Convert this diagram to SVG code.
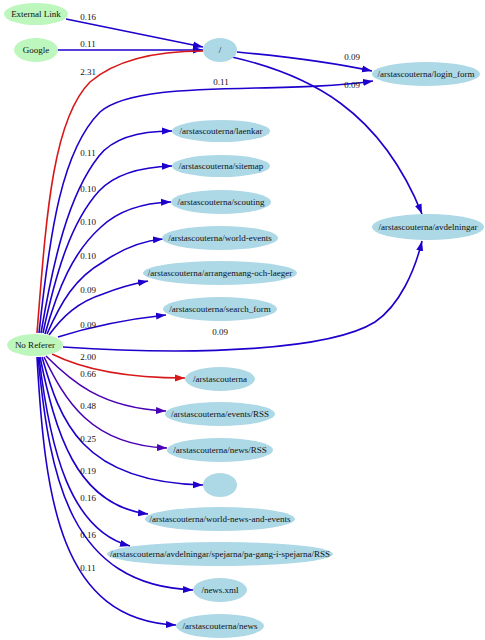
<svg xmlns="http://www.w3.org/2000/svg" width="485" height="640" viewBox="0 0 485 640">
<style>
text{font-family:"Liberation Serif","Times New Roman",serif;font-size:9px;fill:#111;text-anchor:middle}
.g{fill:#bdf7bd}
.b{fill:#add8e6}
.e{fill:none;stroke-width:1.6}
.eb{stroke:#1e00cc}
.ep{stroke:#4a00b4}
.er{stroke:#d81818}
</style>
<defs>
<marker id="ab" markerWidth="11" markerHeight="8" refX="10" refY="4" orient="auto" markerUnits="userSpaceOnUse"><path d="M0,0.5 L10,4 L0,7.5 z" fill="#1e00cc"/></marker>
<marker id="ap" markerWidth="11" markerHeight="8" refX="10" refY="4" orient="auto" markerUnits="userSpaceOnUse"><path d="M0,0.5 L10,4 L0,7.5 z" fill="#4a00b4"/></marker>
<marker id="ar" markerWidth="11" markerHeight="8" refX="10" refY="4" orient="auto" markerUnits="userSpaceOnUse"><path d="M0,0.5 L10,4 L0,7.5 z" fill="#d81818"/></marker>
</defs>
<rect width="485" height="640" fill="#fff"/>
<g id="edges">
<path class="e eb" marker-end="url(#ab)" d="M66,19 L203,47"/>
<path class="e eb" marker-end="url(#ab)" d="M57,50 L203,50"/>
<path class="e er" d="M37,333 C46,220 52,120 90,82 C118,58 160,51 203,51"/>
<path class="e eb" marker-end="url(#ab)" d="M39,333 C50,230 62,150 100,112 C140,78 280,95 373,81"/>
<path class="e eb" marker-end="url(#ab)" d="M237,52 C280,56 330,62 372,71"/>
<path class="e eb" marker-end="url(#ab)" d="M232,57 C310,75 380,110 422,214"/>
<path class="e eb" marker-end="url(#ab)" d="M41,333 C53,262 68,195 99,156 C113,138 140,131 172,131"/>
<path class="e eb" marker-end="url(#ab)" d="M43,333 C56,272 71,222 99,191 C115,174 140,167 172,166"/>
<path class="e eb" marker-end="url(#ab)" d="M45,334 C58,288 73,252 101,227 C118,211 140,203 171,202"/>
<path class="e eb" marker-end="url(#ab)" d="M47,334 C61,302 75,278 103,262 C122,249 140,241 163,239"/>
<path class="e eb" marker-end="url(#ab)" d="M49,335 C63,316 78,302 103,294 C118,288 132,284 148,281"/>
<path class="e eb" marker-end="url(#ab)" d="M58,337 C80,330 120,320 166,315"/>
<path class="e eb" marker-end="url(#ab)" d="M63,347 C200,356 330,350 375,322 C400,305 415,270 422,241"/>
<path class="e er" marker-end="url(#ar)" d="M52,354 C80,368 120,378 185,378"/>
<path class="e ep" marker-end="url(#ap)" d="M46,356 C70,380 100,408 166,411"/>
<path class="e ep" marker-end="url(#ap)" d="M44,357 C65,400 90,445 167,448"/>
<path class="e eb" marker-end="url(#ab)" d="M42,357 C60,420 80,482 203,485"/>
<path class="e eb" marker-end="url(#ab)" d="M40,357 C55,430 75,505 148,514"/>
<path class="e eb" marker-end="url(#ab)" d="M39,357 C50,450 70,530 130,546"/>
<path class="e eb" marker-end="url(#ab)" d="M38,357 C50,480 70,585 193,590"/>
<path class="e eb" marker-end="url(#ab)" d="M37,357 C45,500 60,620 176,625"/>
<text x="88" y="20">0.16</text>
<text x="88" y="47">0.11</text>
<text x="88" y="75">2.31</text>
<text x="221" y="85">0.11</text>
<text x="352" y="60">0.09</text>
<text x="352" y="88">0.09</text>
<text x="88" y="156">0.11</text>
<text x="88" y="192">0.10</text>
<text x="88" y="225">0.10</text>
<text x="88" y="259">0.10</text>
<text x="88" y="293">0.09</text>
<text x="88" y="328">0.09</text>
<text x="220" y="335">0.09</text>
<text x="88" y="360">2.00</text>
<text x="88" y="377">0.66</text>
<text x="88" y="409">0.48</text>
<text x="88" y="442">0.25</text>
<text x="88" y="474">0.19</text>
<text x="88" y="501">0.16</text>
<text x="88" y="538">0.16</text>
<text x="88" y="571">0.11</text>
</g>
<g id="n_external"><ellipse class="g" cx="36" cy="14" rx="32" ry="11"/><text x="36" y="17">External Link</text></g>
<g id="n_google"><ellipse class="g" cx="36" cy="50" rx="22" ry="12"/><text x="36" y="53">Google</text></g>
<g id="n_noref"><ellipse class="g" cx="35" cy="345" rx="28" ry="11"/><text x="35" y="348">No Referer</text></g>
<g id="n_root"><ellipse class="b" cx="220" cy="50" rx="17" ry="12"/><text x="220" y="53">/</text></g>
<g id="n_login"><ellipse class="b" cx="426" cy="74" rx="54" ry="12"/><text x="426" y="77">/arstascouterna/login_form</text></g>
<g id="n_avd"><ellipse class="b" cx="428" cy="227" rx="56" ry="13"/><text x="428" y="230">/arstascouterna/avdelningar</text></g>
<g id="n_laenkar"><ellipse class="b" cx="221" cy="131" rx="49" ry="11"/><text x="221" y="134">/arstascouterna/laenkar</text></g>
<g id="n_sitemap"><ellipse class="b" cx="221" cy="166" rx="49" ry="11"/><text x="221" y="169">/arstascouterna/sitemap</text></g>
<g id="n_scouting"><ellipse class="b" cx="221" cy="202" rx="50" ry="12"/><text x="221" y="205">/arstascouterna/scouting</text></g>
<g id="n_world"><ellipse class="b" cx="220" cy="238" rx="58" ry="12"/><text x="220" y="241">/arstascouterna/world-events</text></g>
<g id="n_arr"><ellipse class="b" cx="220" cy="273" rx="77" ry="12"/><text x="220" y="276">/arstascouterna/arrangemang-och-laeger</text></g>
<g id="n_search"><ellipse class="b" cx="220" cy="309" rx="57" ry="12"/><text x="220" y="312">/arstascouterna/search_form</text></g>
<g id="n_arst"><ellipse class="b" cx="220" cy="379" rx="35" ry="12"/><text x="220" y="382">/arstascouterna</text></g>
<g id="n_events"><ellipse class="b" cx="220" cy="414" rx="55" ry="12"/><text x="220" y="417">/arstascouterna/events/RSS</text></g>
<g id="n_newsrss"><ellipse class="b" cx="220" cy="450" rx="53" ry="12"/><text x="220" y="453">/arstascouterna/news/RSS</text></g>
<g id="n_empty"><ellipse class="b" cx="220" cy="485" rx="17" ry="12"/></g>
<g id="n_wne"><ellipse class="b" cx="220" cy="519" rx="75" ry="12"/><text x="220" y="522">/arstascouterna/world-news-and-events</text></g>
<g id="n_spej"><ellipse class="b" cx="220" cy="554" rx="113" ry="12"/><text x="220" y="557">/arstascouterna/avdelningar/spejarna/pa-gang-i-spejarna/RSS</text></g>
<g id="n_newsxml"><ellipse class="b" cx="220" cy="590" rx="27" ry="12"/><text x="220" y="593">/news.xml</text></g>
<g id="n_news"><ellipse class="b" cx="220" cy="626" rx="44" ry="12"/><text x="220" y="629">/arstascouterna/news</text></g>
</svg>
